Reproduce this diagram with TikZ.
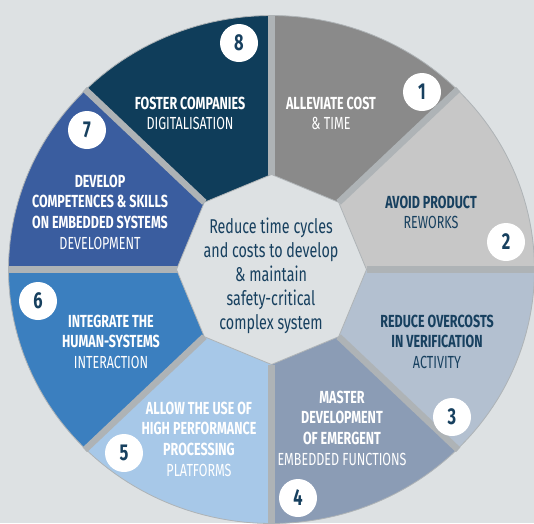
\documentclass[tikz,border=0pt]{standalone}
\usepackage{fontspec}
\setmainfont{Fira Sans}
\newfontfamily\cond{Fira Sans}[FakeStretch=0.715]
\definecolor{bgc}{HTML}{DDE1E3}
\definecolor{gapc}{HTML}{AEB3B6}
\definecolor{txtnavy}{HTML}{17405F}
\definecolor{sone}{HTML}{8A8A8A}
\definecolor{stwo}{HTML}{C7C7C7}
\definecolor{sthree}{HTML}{B3C0D0}
\definecolor{sfour}{HTML}{8B9CB5}
\definecolor{sfive}{HTML}{A7C8E8}
\definecolor{ssix}{HTML}{3B7FBF}
\definecolor{sseven}{HTML}{3A5D9F}
\definecolor{seight}{HTML}{0F3D5A}
\def\cx{271.5}\def\cy{269.5}\def\Rx{263}\def\Ry{254}\def\ri{95}
\newcommand\sectorfill[3]{%
  \fill[#1] ({\cx+\ri*cos(#2)},{\cy-\ri*sin(#2)})
    -- plot[domain=#2:#3,samples=50] ({\cx+\Rx*cos(\x)},{\cy-\Ry*sin(\x)})
    -- ({\cx+\ri*cos(#3)},{\cy-\ri*sin(#3)}) -- cycle;}
\tikzset{
  lbl/.style={anchor=north,align=center,inner sep=0pt,
    font=\cond\fontsize{17.5}{20.8}\selectfont},
  numc/.style={circle,fill=white,minimum size=38pt,inner sep=0pt,
    text=txtnavy,font=\cond\bfseries\fontsize{23}{23}\selectfont},
  gapline/.style={draw=gapc,line width=6.5pt},
  centertxt/.style={anchor=north,align=center,inner sep=0pt,text=txtnavy,
    font=\cond\fontsize{20}{24}\selectfont}
}
\begin{document}
\begin{tikzpicture}[x=1pt,y=-1pt]
\fill[bgc] (0,0) rectangle (534,523);
\useasboundingbox (0,0) rectangle (534,523);
% sectors
\sectorfill{sone}{90}{45}
\sectorfill{stwo}{45}{0}
\sectorfill{sthree}{0}{-45}
\sectorfill{sfour}{-45}{-90}
\sectorfill{sfive}{-90}{-135}
\sectorfill{ssix}{-135}{-180}
\sectorfill{sseven}{180}{135}
\sectorfill{seight}{135}{90}
% outer rim
\draw[gapc,line width=0.8pt] plot[domain=0:360,samples=200] ({\cx+\Rx*cos(\x)},{\cy-\Ry*sin(\x)});
% gaps
\foreach \a in {0,45,...,315}
  \draw[gapline] ({\cx+\ri*cos(\a)},{\cy-\ri*sin(\a)}) -- ({\cx+(\Rx+1)*cos(\a)},{\cy-(\Ry+1)*sin(\a)});
% inner octagon
\filldraw[fill=bgc,draw=gapc,line width=0.8pt] ({\cx+\ri*cos(0)},{\cy-\ri*sin(0)})
  \foreach \a in {45,90,...,315} { -- ({\cx+\ri*cos(\a)},{\cy-\ri*sin(\a)}) } -- cycle;
% center text
\node[centertxt] (center) at (271,218) {Reduce time cycles\\and costs to develop\\\& maintain\\safety-critical\\complex system};
% sector labels
\node[lbl,text=white] (t8) at (190,96.5) {\textbf{FOSTER COMPANIES}\\DIGITALISATION};
\node[lbl,text=white] (t1) at (331,96.5) {\textbf{ALLEVIATE COST}\\\& TIME};
\node[lbl,text=txtnavy] (t2) at (431,195.5) {\textbf{AVOID PRODUCT}\\REWORKS};
\node[lbl,text=txtnavy] (t3) at (437,314.5) {\textbf{REDUCE OVERCOSTS}\\\textbf{IN VERIFICATION}\\ACTIVITY};
\node[lbl,text=white] (t4) at (342,390.5) {\textbf{MASTER}\\\textbf{DEVELOPMENT}\\\textbf{OF EMERGENT}\\EMBEDDED FUNCTIONS};
\node[lbl,text=white] (t5) at (199,401.5) {\textbf{ALLOW THE USE OF}\\\textbf{HIGH PERFORMANCE}\\\textbf{PROCESSING}\\PLATFORMS};
\node[lbl,text=white] (t6) at (111,314.5) {\textbf{INTEGRATE THE}\\\textbf{HUMAN-SYSTEMS}\\INTERACTION};
\node[lbl,text=white] (t7) at (100,174.5) {\textbf{DEVELOP}\\\textbf{COMPETENCES \& SKILLS}\\\textbf{ON EMBEDDED SYSTEMS}\\DEVELOPMENT};
% number badges
\node[numc] (n1) at (422,92) {1};
\node[numc] (n2) at (506,242) {2};
\node[numc] (n3) at (452,417) {3};
\node[numc] (n4) at (298,498) {4};
\node[numc] (n5) at (124,453) {5};
\node[numc] (n6) at (38,301) {6};
\node[numc] (n7) at (87,130) {7};
\node[numc] (n8) at (239,43) {8};
\end{tikzpicture}
\end{document}
